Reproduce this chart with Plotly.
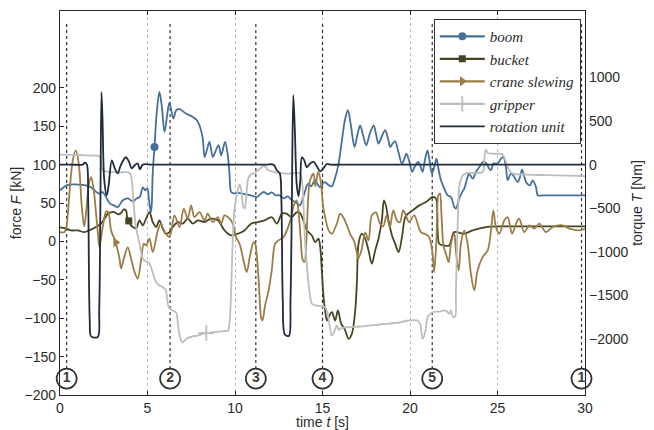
import plotly.graph_objects as go

# ---------------- data ----------------
boom_t = [0, 0.21, 0.44, 0.84, 1.24, 1.47, 1.77, 1.97, 2.10, 2.25, 2.44, 2.61, 2.84, 3.07, 3.30, 3.59, 3.87, 4.16, 4.39, 4.56,
          4.73, 4.87, 4.99, 5.10, 5.19, 5.24, 5.30, 5.40, 5.53, 5.68, 5.81, 5.97, 6.10, 6.25, 6.48, 6.64, 6.83, 7.20, 7.59, 7.82,
          7.97, 8.16, 8.26, 8.39, 8.54, 8.73, 8.84, 9.06, 9.21, 9.43, 9.59, 9.69, 9.78, 9.93, 10.16, 10.50, 10.85, 11.07, 11.25, 11.63,
          11.88, 12.10, 12.33, 12.56, 12.79, 13.02, 13.25, 13.48, 13.71, 13.93, 14.18, 14.36, 14.56, 14.85, 15.13, 15.36, 15.53, 15.71, 15.91, 16.11,
          16.28, 16.45, 16.62, 16.83, 16.99, 17.15, 17.32, 17.50, 17.71, 17.92, 18.05, 18.20, 18.39, 18.58, 18.74, 18.87, 19.02, 19.15, 19.34, 19.54,
          19.65, 19.79, 19.94, 20.13, 20.28, 20.47, 20.60, 20.72, 20.85, 21.00, 21.11, 21.25, 21.37, 21.51, 21.62, 21.77, 21.96, 22.15, 22.34, 22.53,
          22.62, 22.81, 22.97, 23.10, 23.29, 23.38, 23.58, 23.77, 23.96, 24.19, 24.38, 24.51, 24.63, 24.76, 25.01, 25.20, 25.33, 25.48, 25.58, 25.77,
          25.96, 26.15, 26.28, 26.40, 26.51, 26.63, 26.86, 27.01, 27.20, 27.30, 27.6, 28.5, 29.3, 30.0]
boom_f = [66.5, 70.4, 73.7, 74.3, 73.7, 73.0, 70.4, 66.5, 63.9, 62.2, 64.3, 58.7, 49.5, 46.9, 44.7, 53.5, 56.1, 52.2, 56.1, 57.8,
          70.4, 66.5, 69.1, 50.8, 37.8, 46.9, 90.0, 123.0, 168.6, 194.7, 177.3, 142.5, 160.4, 180.8, 160.0, 170.8, 172.1, 166.5, 162.1, 157.8,
          151.2, 133.9, 109.9, 118.6, 129.5, 109.9, 114.7, 125.2, 112.1, 129.5, 112.1, 86.1, 64.3, 62.6, 63.2, 62.0, 60.3, 58.7, 57.8, 64.3,
          61.3, 63.9, 60.0, 60.0, 56.1, 58.7, 53.5, 50.8, 46.9, 60.0, 75.2, 71.7, 79.5, 70.8, 77.3, 73.0, 71.7, 82.1, 100.0, 131.7,
          157.8, 170.8, 151.2, 123.0, 138.2, 151.2, 138.2, 125.2, 140.8, 151.2, 140.8, 127.4, 136.9, 144.7, 134.3, 123.0, 127.8, 130.4, 116.0, 101.3,
          105.6, 114.4, 105.6, 90.4, 97.8, 103.4, 97.8, 90.4, 105.6, 118.6, 105.6, 88.3, 95.2, 107.8, 95.2, 79.5, 68.7, 60.0, 57.8, 44.7,
          42.6, 55.7, 63.9, 68.7, 83.8, 88.3, 81.7, 90.4, 96.9, 103.4, 101.3, 95.2, 92.6, 101.3, 101.3, 107.8, 109.9, 96.9, 79.5, 88.3,
          83.8, 77.3, 83.4, 93.5, 86.1, 77.3, 73.0, 79.5, 70.8, 60.0, 60.0, 60.0, 60.0, 60.0]

bucket_t = [0, 0.33, 0.63, 1.01, 1.40, 1.77, 2.04, 2.34, 2.56, 2.73, 2.90, 3.11, 3.30, 3.49, 3.64, 3.77, 3.84, 3.93, 4.06, 4.21,
            4.35, 4.54, 4.73, 4.90, 5.11, 5.30, 5.49, 5.68, 5.87, 6.06, 6.26, 6.44, 6.73, 7.02, 7.30, 7.59, 7.87, 8.26, 8.63, 9.02,
            9.40, 9.78, 10.16, 10.54, 10.92, 11.30, 11.70, 12.10, 12.39, 12.68, 12.94, 13.23, 13.52, 13.70, 13.93, 14.11, 14.39, 14.58, 14.77, 14.87,
            14.96, 15.06, 15.15, 15.25, 15.35, 15.54, 15.72, 15.88, 16.07, 16.26, 16.49, 16.68, 16.87, 16.97, 17.06, 17.25, 17.44, 17.63, 17.82, 18.01,
            18.20, 18.39, 18.51, 18.62, 18.79, 18.97, 19.15, 19.35, 19.54, 19.73, 19.91, 20.15, 20.53, 20.91, 21.29, 21.48, 21.58, 21.67, 21.96, 22.24,
            22.53, 23.10, 23.58, 24.34, 25.14, 26.5, 28.0, 30.0]
bucket_f = [18.3, 16.9, 14.3, 14.3, 12.1, 15.3, 18.3, 23.1, 30.0, 36.1, 37.8, 38.2, 35.2, 36.9, 41.7, 40.4, 31.3, 26.7, 20.9, 18.3,
            16.6, 27.4, 20.9, 28.7, 38.2, 25.2, 18.6, 27.4, 16.6, 10.0, 12.1, 18.6, 25.2, 23.1, 29.6, 23.1, 27.4, 25.2, 29.6, 27.4,
            14.3, 7.8, 10.0, 14.3, 23.1, 25.2, 27.4, 31.7, 23.1, 36.1, 36.1, 31.7, 37.8, 37.2, 26.1, 14.3, 7.8, -0.9, 3.5, -7.4,
            -37.8, -72.6, -90.0, -103.0, -98.7, -92.2, -103.0, -90.0, -107.3, -113.8, -126.9, -120.3, -90.0, -50.8, -3.0, 10.0, 3.5, -11.7, -29.1, -11.7,
            3.5, 27.4, 53.5, 46.9, 25.2, 7.8, -3.0, -14.0, 5.6, 31.7, 36.5, 40.4, 46.9, 51.2, 57.8, 55.7, 14.3, -3.0, -5.2, -5.2,
            12.1, 10.0, 14.3, 18.6, 19.6, 19.6, 19.6, 19.6]

crane_t = [0, 0.25, 0.38, 0.55, 0.73, 0.90, 1.07, 1.24, 1.38, 1.53, 1.64, 1.78, 1.93, 2.06, 2.16, 2.25, 2.44, 2.64, 2.76, 2.92,
           3.18, 3.40, 3.49, 3.68, 3.87, 4.06, 4.27, 4.44, 4.63, 4.79, 4.92, 5.11, 5.30, 5.59, 5.77, 5.97, 6.26, 6.54, 6.83, 7.07,
           7.30, 7.49, 7.68, 7.97, 8.26, 8.44, 8.73, 9.02, 9.21, 9.40, 9.69, 9.87, 10.06, 10.26, 10.49, 10.67, 10.86, 11.06, 11.15, 11.34,
           11.49, 11.57, 11.72, 11.92, 12.10, 12.29, 12.49, 12.77, 13.13, 13.36, 13.52, 13.65, 13.76, 13.85, 13.97, 14.08, 14.19, 14.29, 14.49, 14.59,
           14.75, 14.89, 15.04, 15.15, 15.35, 15.53, 15.82, 16.01, 16.18, 16.39, 16.62, 16.79, 16.96, 17.05, 17.25, 17.44, 17.63, 17.82, 18.05, 18.28,
           18.47, 18.66, 18.85, 19.04, 19.25, 19.42, 19.61, 19.81, 19.95, 20.24, 20.62, 20.91, 21.10, 21.29, 21.38, 21.51, 21.62, 21.71, 21.80, 21.91,
           22.05, 22.21, 22.34, 22.53, 22.62, 22.78, 22.91, 23.10, 23.29, 23.48, 23.67, 23.86, 24.15, 24.44, 24.63, 24.76, 24.91, 25.10, 25.39, 25.58,
           25.83, 26.06, 26.24, 26.53, 26.82, 27.10, 27.39, 27.77, 28.15, 28.72, 29.10, 29.67, 30.0]
crane_f = [12.1, 12.1, 20.9, 66.5, 105.6, 118.6, 101.7, 46.9, 19.6, 46.9, 73.0, 83.8, 66.5, 36.5, 11.7, -7.4, 18.6, 39.1, 37.8, 14.3,
           -1.3, -22.2, -35.2, -19.6, -7.8, -22.2, -40.4, -48.6, -24.8, -3.0, -5.2, 3.5, -14.0, 14.3, 23.1, 12.1, 5.6, 33.9, 18.6, 42.6,
           29.6, 46.9, 31.7, 38.2, 27.4, 36.1, 25.2, 31.7, 23.1, 33.9, 29.6, 23.1, 5.6, -3.0, -24.8, -40.0, -18.3, -0.9, -3.0, -46.5,
           -98.7, -103.0, -83.4, -63.9, -37.8, -3.0, 1.3, 5.6, 24.8, 46.9, 53.5, 33.9, 1.3, -22.2, -27.0, 1.3, 60.0, 79.5, 88.3, 71.7,
           90.4, 79.5, 44.7, 31.7, 14.3, 10.0, 23.1, 36.1, 31.7, 20.9, 7.8, 1.3, -14.3, -22.2, -9.1, 11.7, 1.3, 33.9, 37.8, 23.5,
           19.6, 33.9, 18.3, 40.4, 27.4, 24.8, 40.4, 31.3, 24.8, 33.9, 12.1, 9.1, 5.2, -15.6, -40.0, 1.3, 60.0, 62.6, 33.9, -5.2,
           -16.0, -27.0, -3.0, 10.0, -11.7, -37.8, -3.0, 14.3, -3.0, -42.1, -63.9, -37.8, -20.5, -11.7, 14.3, 40.4, 18.6, 10.0, 27.4, 31.7,
           10.0, 23.1, 29.6, 12.1, 20.9, 16.6, 23.1, 12.1, 18.6, 20.9, 16.6, 14.3, 16.3]

gripper_t = [0, 1.13, 1.98, 2.27, 2.36, 2.44, 2.73, 3.42, 3.99, 4.10, 4.21, 4.33, 4.44, 4.56, 4.73, 4.90, 5.07, 5.20, 5.33, 5.47,
             5.61, 5.87, 6.04, 6.13, 6.22, 6.44, 6.63, 6.73, 6.84, 7.00, 7.22, 7.53, 7.87, 8.36, 8.85, 9.36, 9.61, 9.69, 9.76, 9.85,
             9.96, 10.10, 10.26, 10.36, 10.47, 10.56, 10.65, 10.76, 10.96, 11.13, 11.32, 11.52, 11.63, 11.76, 11.92, 12.29, 13.06, 13.72, 13.85, 13.93,
             14.01, 14.11, 14.20, 14.31, 14.39, 14.58, 14.96, 15.15, 15.28, 15.39, 15.53, 15.65, 15.82, 15.93, 16.11, 17.14, 18.28, 19.42, 19.92, 20.43,
             20.59, 20.72, 20.87, 21.01, 21.29, 21.71, 22.05, 22.24, 22.34, 22.44, 22.58, 22.62, 22.69, 22.76, 22.81, 22.91, 23.01, 23.20, 24.15, 24.24,
             24.34, 24.44, 24.85, 25.29, 25.48, 25.67, 25.87, 26.63, 27.8, 29.0, 30.0]
gripper_f = [113.0, 112.5, 111.7, 110.8, 99.1, 92.6, 90.6, 90.0, 89.0, 79.5, 46.9, 20.9, 7.8, -5.2, -22.2, -26.1, -27.4, -33.5, -43.0, -52.2,
             -56.1, -59.6, -63.2, -76.9, -86.0, -90.0, -92.2, -105.6, -122.6, -131.3, -126.9, -123.9, -122.6, -119.3, -118.0, -116.7, -116.0, -105.6, -76.9, -11.7,
             40.4, 60.0, 74.3, 66.5, 45.6, 43.0, 60.0, 82.1, 88.3, 89.0, 92.6, 96.5, 99.1, 96.5, 92.6, 90.0, 88.3, 88.3, 73.0, 37.8,
             -2.6, -31.3, -55.1, -74.3, -81.2, -83.4, -84.7, -85.7, -92.6, -106.9, -122.6, -118.6, -109.5, -115.1, -112.5, -110.8, -108.2, -105.6, -103.0, -103.0,
             -108.2, -126.9, -118.3, -98.7, -92.2, -91.3, -90.0, -94.3, -90.0, -97.8, -97.8, -68.2, -2.6, 46.9, 70.8, 80.8, 86.0, 89.0, 90.4, 105.6,
             119.6, 115.1, 114.1, 113.4, 103.4, 92.6, 88.3, 87.0, 86.3, 85.7, 85.1]

rot_t = [0, 0.6, 1.30, 1.41, 1.53, 1.61, 1.70, 1.78, 2.16, 2.24, 2.31, 2.37, 2.43, 2.53, 2.67, 2.78, 2.96, 3.13, 3.30, 3.47, 3.76,
         3.93, 4.10, 4.27, 4.44, 4.56, 4.73, 5.2, 6.5, 8.0, 9.5, 11.0, 11.8, 12.20, 12.39, 12.56, 12.65, 12.73, 12.85, 13.08, 13.17, 13.25, 13.33, 13.42, 13.53, 13.63, 13.73,
         13.82, 13.96, 14.10, 14.31, 14.49, 14.68, 14.87, 15.05, 15.25, 15.42, 16.5, 19.0, 22.0, 25.0, 28.0, 30.0]
rot_torque = [0, 0, 0, 21, 3, -409, -1786, -1969, -1975, -1672, -409, 829, 508, -180, -352, -237, 49, -42, -100, -8, 84,
              38, -42, -8, 15, -54, 0, 0, 0, 0, 0, 0, 0, 0, -65, -100, -409, -1556, -1946, -1964, -1556, -409, 795, 393, -237, -364, -180,
              84, 49, -28, 15, 30, -20, -77, -42, 7, 0, 0, 0, 0, 0, 0, 0]

# marker sample times (one marker per curve, as in the original)
boom_mark_t, bucket_mark_t, crane_mark_t, gripper_mark_t = 5.40, 3.93, 3.18, 8.36

# phase events
event_t = [0.38, 6.29, 11.19, 15.0, 21.27, 29.8]
event_labels = ["1", "2", "3", "4", "5", "1"]

x_ticks = [0, 5, 10, 15, 20, 25, 30]
f_ticks = [-200, -150, -100, -50, 0, 50, 100, 150, 200]
f_grid = [-100, 0, 100, 200]
t_ticks = [-2000, -1500, -1000, -500, 0, 500, 1000]

# ---------------- style ----------------
C_BOOM = "#46709c"
C_BUCKET = "#484323"
C_CRANE = "#9b7d47"
C_GRIP = "#bdbdbd"
C_ROT = "#1e2c3b"
AX = "#262626"
TXT = "#2b2b2b"
GRID = "#bdbdbd"
LW = 1.8

F_RANGE = [-200, 300]
T_RANGE = [-2640, 1760]
EV_TOP, EV_BOTTOM, EV_LABEL = 287, -166, -178.6

fig = go.Figure()

# event lines
for et in event_t:
    fig.add_trace(go.Scatter(x=[et, et], y=[EV_BOTTOM, EV_TOP], mode="lines",
                             line=dict(color="#333333", width=1.2, dash="dot"),
                             showlegend=False, hoverinfo="skip"))

series = [
    ("boom", boom_t, boom_f, C_BOOM, "circle", 8, boom_mark_t, 1),
    ("bucket", bucket_t, bucket_f, C_BUCKET, "square", 7, bucket_mark_t, 2),
    ("crane slewing", crane_t, crane_f, C_CRANE, "triangle-right", 9, crane_mark_t, 3),
    ("gripper", gripper_t, gripper_f, C_GRIP, "cross-thin", 11, gripper_mark_t, 4),
]
for name, xs, ys, col, sym, ms, mt, rank in series:
    fig.add_trace(go.Scatter(x=xs, y=ys, mode="lines",
                             line=dict(color=col, width=LW, shape="spline", smoothing=0.9),
                             showlegend=False, hoverinfo="skip"))
for name, xs, ys, col, sym, ms, mt, rank in series:
    i = xs.index(mt)
    mline = dict(color=col, width=1.8) if sym == "cross-thin" else dict(width=0)
    fig.add_trace(go.Scatter(x=[xs[i]], y=[ys[i]], mode="lines+markers", name=name,
                             line=dict(color=col, width=2.2),
                             marker=dict(symbol=sym, size=ms, color=col, line=mline),
                             legendrank=rank, cliponaxis=False))

# rotation unit on torque axis
fig.add_trace(go.Scatter(x=rot_t, y=rot_torque, mode="lines", name="rotation unit",
                         line=dict(color=C_ROT, width=LW, shape="spline", smoothing=0.9),
                         yaxis="y2", legendrank=5))

# circled event numbers
fig.add_trace(go.Scatter(x=event_t, y=[EV_LABEL] * len(event_t), mode="markers+text",
                         text=["<b>%s</b>" % s for s in event_labels], textposition="middle center",
                         textfont=dict(family="Liberation Sans, Arial", size=14, color="#3c3c3c"),
                         marker=dict(symbol="circle", size=20, color="white",
                                     line=dict(color="#333333", width=1.7)),
                         showlegend=False, hoverinfo="skip", cliponaxis=False))

tickfont = dict(family="Liberation Sans, Arial", size=14, color=TXT)
# the page adds an 8 px body margin, so the figure is sized to fit the 654x430 window
fig.update_layout(
    width=646, height=422,
    margin=dict(l=52, r=69, t=3, b=35, autoexpand=False),
    paper_bgcolor="white", plot_bgcolor="white",
    font=dict(family="Liberation Sans, Arial", size=14, color=TXT),
    xaxis=dict(range=[0, 30], tickvals=x_ticks, ticks="inside", ticklen=4, tickcolor=AX,
               showline=True, linecolor=AX, linewidth=1.4, mirror="ticks", automargin=False,
               showgrid=True, gridcolor=GRID, griddash="dot", gridwidth=1, zeroline=False,
               tickfont=tickfont, title=dict(text="time <i>t</i> [s]", standoff=3, font=tickfont)),
    yaxis=dict(range=F_RANGE, tickvals=f_ticks, ticks="inside", ticklen=4, tickcolor=AX,
               showline=True, linecolor=AX, linewidth=1.4, mirror=True, automargin=False,
               showgrid=False, zeroline=False, tickfont=tickfont,
               title=dict(text="force <i>F</i> [kN]", standoff=0, font=tickfont)),
    yaxis2=dict(range=T_RANGE, tickvals=t_ticks, overlaying="y", side="right", anchor="x",
                ticks="", showline=True, linecolor=AX, linewidth=1.4, automargin=False,
                showgrid=False, zeroline=False, tickfont=tickfont,
                title=dict(text="torque <i>T</i> [Nm]", standoff=4, font=tickfont)),
    yaxis3=dict(range=F_RANGE, tickvals=f_grid, overlaying="y", side="left", anchor="x",
                showgrid=True, gridcolor=GRID, griddash="dot", gridwidth=1, automargin=False,
                showticklabels=False, ticks="", showline=False, zeroline=False),
    legend=dict(x=0.992, y=0.979, xanchor="right", yanchor="top",
                bgcolor="white", bordercolor="#333333", borderwidth=1,
                font=dict(family="Liberation Serif, DejaVu Serif", size=15, color=TXT, style="italic"),
                tracegroupgap=0, itemwidth=45),
    showlegend=True,
)

fig.write_html("out.html")
